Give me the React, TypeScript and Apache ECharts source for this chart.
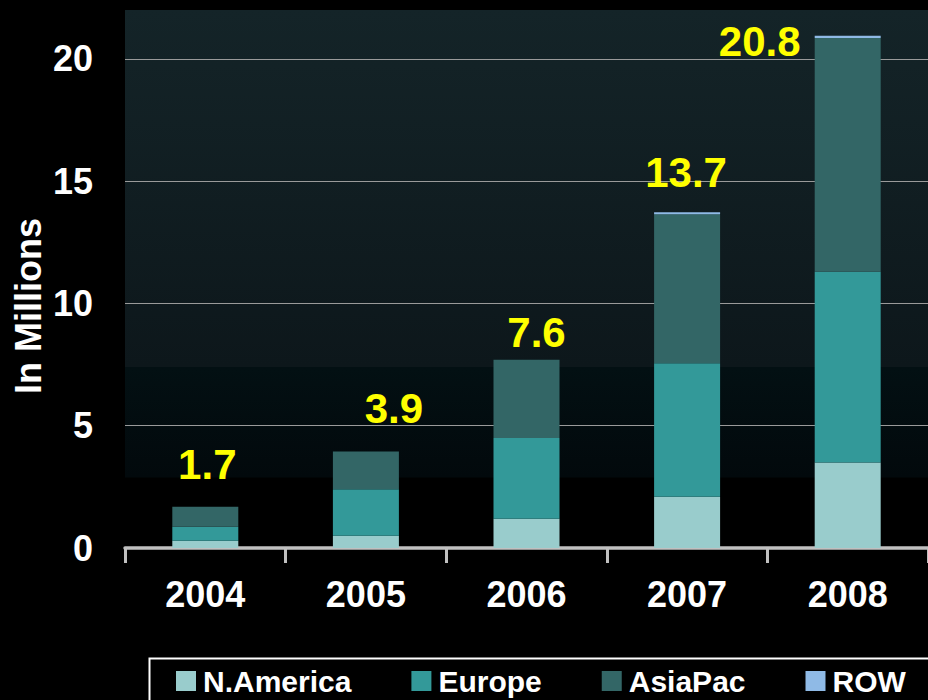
import React, { useEffect, useRef } from "react";
import * as echarts from "echarts";

const years = ["2004", "2005", "2006", "2007", "2008"];
const nAmerica = [0.3, 0.5, 1.2, 2.1, 3.5];
const europe = [0.57, 1.9, 3.3, 5.45, 7.8];
const asiaPac = [0.82, 1.55, 3.2, 6.1, 9.55];
const row = [0, 0, 0, 0.08, 0.1];
const totals = ["1.7", "3.9", "7.6", "13.7", "20.8"];
const yTicks = [0, 5, 10, 15, 20];
// label offsets (style only)
const labelOffsets: [number, number][] = [
  [2, -21],
  [28, -22],
  [10, -6],
  [-1, -19],
  [-88, 27],
];

const FONT = "'Liberation Sans', Arial, sans-serif";

export default function App() {
  const ref = useRef<HTMLDivElement>(null);
  useEffect(() => {
    if (!ref.current) return;
    const chart = echarts.init(ref.current, null, { renderer: "svg" });
    const mk = (name: string, data: number[], color: string) => ({
      name,
      type: "bar",
      stack: "total",
      data,
      barWidth: 66,
      itemStyle: { color },
      emphasis: { disabled: true },
    });
    const rowSeries: any = mk("ROW", row, "#8FBAE6");
    rowSeries.data = row.map((v, i) => ({
      value: v,
      label: {
        show: true,
        position: "top",
        distance: 0,
        offset: labelOffsets[i],
        formatter: () => totals[i],
        color: "#FFFF00",
        fontSize: 42,
        lineHeight: 42,
        fontWeight: "bold",
        fontFamily: FONT,
      },
    }));
    chart.setOption({
      animation: false,
      backgroundColor: "#000000",
      textStyle: { fontFamily: FONT },
      grid: {
        left: 125,
        right: -3,
        top: 10,
        bottom: 152,
        show: true,
        borderWidth: 0,
        backgroundColor: new echarts.graphic.LinearGradient(0, 0, 0, 1, [
          { offset: 0, color: "#142428" },
          { offset: 0.663, color: "#0d171b" },
          { offset: 0.664, color: "#031013" },
          { offset: 0.868, color: "#02090c" },
          { offset: 0.87, color: "#000000" },
          { offset: 1, color: "#000000" },
        ]),
      },
      xAxis: {
        type: "category",
        data: years,
        axisLine: { lineStyle: { color: "#c0c0c0", width: 3.5 } },
        axisTick: { show: true, length: 15, lineStyle: { color: "#c0c0c0", width: 3 } },
        axisLabel: {
          color: "#ffffff",
          fontSize: 36,
          lineHeight: 36,
          fontWeight: "bold",
          fontFamily: FONT,
          margin: 28,
        },
      },
      yAxis: {
        type: "value",
        min: yTicks[0],
        max: 22,
        interval: 5,
        axisLine: { show: false },
        axisTick: { show: false },
        axisLabel: {
          color: "#ffffff",
          fontSize: 36,
          fontWeight: "bold",
          fontFamily: FONT,
          margin: 32,
          showMaxLabel: false,
          formatter: (v: number) => (yTicks.includes(v) ? String(v) : ""),
        },
        splitLine: {
          show: true,
          showMinLine: false,
          showMaxLine: false,
          lineStyle: { color: "#9a9a9a", width: 1 },
        },
      },
      legend: {
        left: 176,
        top: 666,
        padding: 0,
        itemWidth: 20,
        itemHeight: 20,
        itemGap: 60,
        icon: "rect",
        data: ["N.America", "Europe", "AsiaPac", "ROW"],
        textStyle: {
          color: "#ffffff",
          fontSize: 30,
          fontWeight: "bold",
          fontFamily: FONT,
          padding: [0, 0, 0, 2],
        },
      },
      graphic: [
        {
          type: "rect",
          left: 147,
          top: 656,
          z: 0,
          shape: { width: 800, height: 60 },
          style: { fill: "none", stroke: "#ffffff", lineWidth: 2 },
        },
        {
          type: "text",
          x: 28,
          y: 306,
          rotation: Math.PI / 2,
          style: {
            text: "In Millions",
            fill: "#ffffff",
            fontSize: 36,
            fontWeight: "bold",
            fontFamily: FONT,
            align: "center",
            verticalAlign: "middle",
          },
        },
      ],
      series: [
        mk("N.America", nAmerica, "#99CCCC"),
        mk("Europe", europe, "#339999"),
        mk("AsiaPac", asiaPac, "#336666"),
        rowSeries,
      ],
    });
    return () => chart.dispose();
  }, []);
  return (
    <div
      ref={ref}
      style={{ position: "fixed", left: 0, top: 0, width: 928, height: 700 }}
    />
  );
}
